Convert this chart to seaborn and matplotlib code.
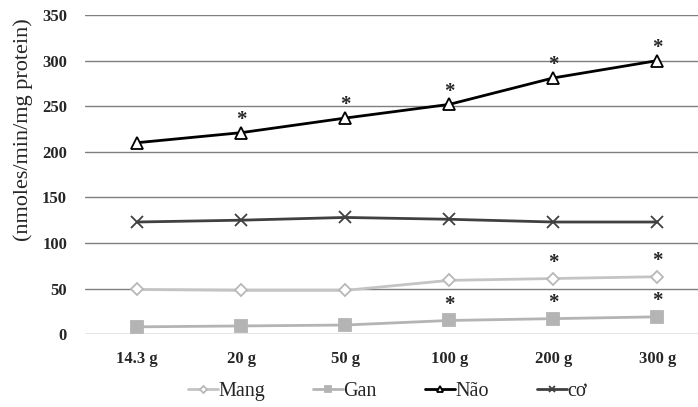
import pandas as pd
import matplotlib.pyplot as plt
import seaborn as sns

doses = ["14.3 g", "20 g", "50 g", "100 g", "200 g", "300 g"]
mang = [49, 48, 48, 59, 61, 63]
gan = [8, 9, 10, 15, 17, 19]
nao = [210, 221, 237, 252, 281, 300]
co = [123, 125, 128, 126, 123, 123]

# significance marks (*)
mang_sig = [False, False, False, False, True, True]
gan_sig = [False, False, False, True, True, True]
nao_sig = [False, True, True, True, True, True]

sns.set_style("white")
plt.rcParams['font.family'] = ['Liberation Serif', 'DejaVu Serif']

fig = plt.figure(figsize=(6.98, 4.07), dpi=100)
ax = fig.add_axes([0.122, 0.179, 0.894, 0.784])

styles = {
    "Mang": dict(data=mang, color="#c4c4c4", marker="D", mfc="white", mec="#b8b8b8", ms=6),
    "Gan": dict(data=gan, color="#b4b4b4", marker="s", mfc="#b4b4b4", mec="#b4b4b4", ms=8),
    "Não": dict(data=nao, color="black", marker="^", mfc="white", mec="black", ms=8),
    "cơ": dict(data=co, color="#404040", marker="x", mfc="#404040", mec="#404040", ms=8),
}

for name, st in styles.items():
    df = pd.DataFrame({"dose": doses, "val": st["data"]})
    sns.lineplot(data=df, x="dose", y="val", ax=ax, sort=False, color=st["color"],
                 linewidth=2, marker=st["marker"], markerfacecolor=st["mfc"],
                 markeredgecolor=st["mec"], markersize=st["ms"], markeredgewidth=1.3,
                 label=name, zorder=3)

for i, d in enumerate(doses):
    if nao_sig[i]:
        ax.text(i, nao[i] + 3, "*", ha="center", va="bottom", fontsize=15, fontweight="bold")
    if mang_sig[i]:
        ax.text(i, mang[i] + 6, "*", ha="center", va="bottom", fontsize=15, fontweight="bold")
    if gan_sig[i]:
        ax.text(i, gan[i] + 6, "*", ha="center", va="bottom", fontsize=15, fontweight="bold")

ax.set_xlim(-0.5, 5.5)
ax.set_ylim(0, 350)
ax.set_yticks(range(0, 351, 50))
ax.yaxis.grid(True, color="#7f7f7f", linewidth=1)
ax.set_axisbelow(True)
for s in ax.spines.values():
    s.set_visible(False)
ax.tick_params(axis="both", length=0, labelsize=12)
ax.tick_params(axis="y", pad=13)
ax.tick_params(axis="x", pad=12)
for lab in ax.get_xticklabels() + ax.get_yticklabels():
    lab.set_fontweight("bold")
ax.set_xlabel("")
ax.set_ylabel("(nmoles/min/mg protein)", fontsize=16)
ax.yaxis.set_label_coords(-0.083, 0.64)

ax.legend(loc="center", bbox_to_anchor=(0.555, 0.038), bbox_transform=fig.transFigure,
          ncol=4, frameon=False, fontsize=14.5, handlelength=1.5, handletextpad=0.0,
          columnspacing=2.4, markerscale=0.6)

fig.savefig("out.png", dpi=100)
